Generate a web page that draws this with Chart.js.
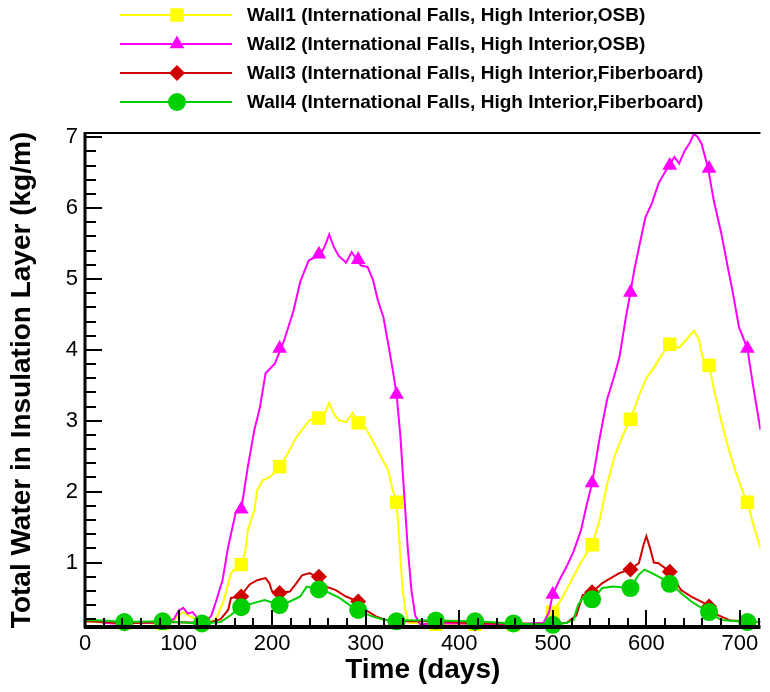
<!DOCTYPE html>
<html>
<head>
<meta charset="utf-8">
<script src="https://cdn.jsdelivr.net/npm/chart.js@4.4.1/dist/chart.umd.min.js"></script>
<style>
  html, body { margin: 0; padding: 0; background: #fff; }
  #wrap { width: 770px; height: 692px; position: relative; }
</style>
</head>
<body>
<div id="wrap"><canvas id="chart"></canvas></div>
<script>
// ==========================
// DATA
// ==========================
const xTickLabels = [0, 100, 200, 300, 400, 500, 600, 700];
const yTickLabels = [1, 2, 3, 4, 5, 6, 7];

const seriesNames = [
  "Wall1 (International Falls, High Interior,OSB)",
  "Wall2 (International Falls, High Interior,OSB)",
  "Wall3 (International Falls, High Interior,Fiberboard)",
  "Wall4 (International Falls, High Interior,Fiberboard)"
];

// Wall1 - yellow
const wall1Days = [0, 20, 42, 83, 95, 100, 105, 112, 120, 128, 140, 148, 156, 166, 171, 174, 181, 184, 190, 198, 208, 219, 224, 230, 240, 250, 256, 261, 266, 271, 279, 286, 292, 300, 311, 318, 324, 329, 333, 336, 339, 342, 346, 375, 420, 460, 490, 497, 500, 510, 520, 530, 542, 550, 558, 566, 575, 583, 592, 600, 608, 615, 625, 635, 643, 651, 656, 660, 667, 673, 680, 688, 695, 703, 708, 715, 722];
const wall1Vals = [0.18, 0.15, 0.15, 0.14, 0.18, 0.26, 0.30, 0.24, 0.20, 0.13, 0.20, 0.45, 0.85, 0.97, 1.13, 1.46, 1.74, 2.02, 2.16, 2.21, 2.35, 2.59, 2.73, 2.84, 3.01, 3.04, 3.10, 3.25, 3.10, 3.01, 2.98, 3.11, 2.97, 2.90, 2.63, 2.45, 2.30, 2.02, 1.85, 1.30, 0.70, 0.35, 0.15, 0.13, 0.13, 0.12, 0.14, 0.20, 0.30, 0.50, 0.75, 1.00, 1.25, 1.60, 2.10, 2.50, 2.80, 3.02, 3.35, 3.60, 3.75, 3.90, 4.08, 4.03, 4.15, 4.27, 4.15, 3.90, 3.78, 3.40, 3.00, 2.60, 2.30, 2.00, 1.85, 1.50, 1.20];

// Wall2 - magenta
const wall2Days = [0, 10, 20, 30, 42, 60, 83, 95, 100, 105, 110, 115, 120, 128, 135, 140, 147, 153, 161, 167, 174, 181, 187, 193, 203, 213, 223, 230, 239, 251, 256, 261, 266, 271, 279, 285, 295, 302, 308, 313, 319, 324, 329, 333, 337, 341, 345, 349, 353, 358, 375, 400, 430, 460, 490, 496, 500, 507, 515, 522, 530, 536, 542, 550, 558, 565, 571, 578, 583, 587, 593, 599, 606, 613, 624, 630, 635, 641, 646, 651, 655, 659, 666, 672, 680, 687, 692, 699, 708, 714, 722];
const wall2Vals = [0.20, 0.18, 0.15, 0.14, 0.14, 0.15, 0.15, 0.20, 0.32, 0.36, 0.28, 0.30, 0.22, 0.15, 0.25, 0.45, 0.75, 1.22, 1.70, 1.75, 2.35, 2.87, 3.19, 3.67, 3.81, 4.14, 4.56, 4.96, 5.26, 5.34, 5.45, 5.63, 5.45, 5.33, 5.23, 5.38, 5.19, 5.17, 4.98, 4.70, 4.46, 4.09, 3.71, 3.37, 2.80, 2.00, 1.20, 0.60, 0.25, 0.13, 0.14, 0.14, 0.13, 0.13, 0.15, 0.30, 0.55, 0.75, 0.95, 1.15, 1.45, 1.80, 2.12, 2.75, 3.30, 3.60, 3.88, 4.45, 4.81, 5.12, 5.50, 5.87, 6.07, 6.35, 6.60, 6.72, 6.63, 6.81, 6.91, 7.05, 7.00, 6.91, 6.56, 6.11, 5.65, 5.17, 4.84, 4.32, 4.02, 3.50, 2.87];

// Wall3 - red
const wall3Days = [0, 20, 42, 83, 125, 135, 145, 153, 156, 166, 176, 184, 193, 197, 200, 208, 219, 226, 232, 240, 250, 258, 268, 279, 292, 300, 311, 321, 340, 375, 417, 458, 500, 515, 525, 532, 542, 553, 562, 571, 582, 592, 597, 600, 604, 608, 613, 625, 637, 648, 666, 676, 690, 722];
const wall3Vals = [0.17, 0.16, 0.14, 0.16, 0.15, 0.16, 0.20, 0.33, 0.50, 0.52, 0.69, 0.75, 0.78, 0.71, 0.59, 0.57, 0.59, 0.71, 0.82, 0.85, 0.78, 0.66, 0.61, 0.52, 0.45, 0.33, 0.24, 0.19, 0.17, 0.17, 0.14, 0.14, 0.13, 0.15, 0.25, 0.54, 0.58, 0.71, 0.78, 0.85, 0.90, 0.99, 1.25, 1.37, 1.20, 1.00, 0.99, 0.87, 0.61, 0.52, 0.40, 0.26, 0.18, 0.16];

// Wall4 - green
const wall4Days = [0, 20, 42, 83, 125, 145, 156, 166, 181, 192, 208, 219, 230, 237, 250, 258, 272, 290, 307, 320, 375, 417, 458, 500, 515, 522, 527, 532, 542, 553, 564, 583, 592, 598, 606, 613, 625, 637, 648, 666, 680, 708, 722];
const wall4Vals = [0.19, 0.18, 0.16, 0.17, 0.14, 0.16, 0.26, 0.37, 0.43, 0.47, 0.40, 0.45, 0.52, 0.66, 0.62, 0.59, 0.50, 0.33, 0.24, 0.19, 0.18, 0.17, 0.14, 0.12, 0.15, 0.19, 0.40, 0.50, 0.48, 0.64, 0.66, 0.64, 0.83, 0.90, 0.85, 0.80, 0.71, 0.57, 0.45, 0.30, 0.19, 0.16, 0.16];

// symbols (every ~42 days)
const markerDays = [42, 83, 125, 167, 208, 250, 292, 333, 375, 417, 458, 500, 542, 583, 625, 667, 708];
const wall1Marks = [0.15, 0.14, 0.14, 0.97, 2.35, 3.04, 2.97, 1.85, 0.13, 0.13, 0.12, 0.30, 1.25, 3.02, 4.08, 3.78, 1.85];
const wall2Marks = [0.14, 0.15, 0.15, 1.75, 4.02, 5.35, 5.27, 3.37, 0.14, 0.14, 0.13, 0.55, 2.12, 4.81, 6.60, 6.56, 4.02];
const wall3Marks = [0.14, 0.16, 0.15, 0.52, 0.57, 0.80, 0.45, 0.17, 0.17, 0.14, 0.14, 0.13, 0.58, 0.90, 0.87, 0.38, 0.16];
const wall4Marks = [0.16, 0.17, 0.14, 0.37, 0.40, 0.62, 0.33, 0.17, 0.18, 0.17, 0.14, 0.12, 0.48, 0.64, 0.70, 0.30, 0.16];

// ==========================
// STYLE
// ==========================
const colors = ["#ffff00", "#ff00ff", "#d00000", "#00d000"];
const shapes = ["rect", "triangle", "rectRot", "circle"];
const radii = [9.5, 8.5, 8, 9];
const FONT = "'Liberation Sans', Arial, sans-serif";

const pairs = (xs, ys) => xs.map((x, i) => ({ x: x, y: ys[i] }));

const lineSets = [
  pairs(wall1Days, wall1Vals),
  pairs(wall2Days, wall2Vals),
  pairs(wall3Days, wall3Vals),
  pairs(wall4Days, wall4Vals)
];
const markSets = [wall1Marks, wall2Marks, wall3Marks, wall4Marks].map(m => pairs(markerDays, m));

const datasets = [];
for (let i = 0; i < 4; i++) {
  datasets.push({
    label: seriesNames[i],
    data: lineSets[i],
    borderColor: colors[i],
    borderWidth: 2,
    pointRadius: 0,
    fill: false,
    tension: 0,
    order: 8 - i * 2
  });
  datasets.push({
    label: seriesNames[i] + " symbols",
    data: markSets[i],
    showLine: false,
    pointStyle: shapes[i],
    pointRadius: radii[i],
    pointBackgroundColor: colors[i],
    pointBorderWidth: 0,
    clip: 12,
    order: 7 - i * 2
  });
}

// ==========================
// PLUGINS
// ==========================
const frameAndTicks = {
  id: "frameAndTicks",
  afterDatasetsDraw(chart) {
    const { ctx, chartArea: a, scales } = chart;
    const xs = scales.x, ys = scales.y;
    ctx.save();
    ctx.strokeStyle = "#000";
    ctx.lineCap = "butt";

    // minor + major ticks pointing inside
    ctx.lineWidth = 2;
    for (let d = 20; d <= 720; d += 20) {
      const px = Math.round(xs.getPixelForValue(d));
      const len = d % 100 === 0 ? 17 : 9;
      ctx.beginPath();
      ctx.moveTo(px, a.bottom);
      ctx.lineTo(px, a.bottom - len);
      ctx.stroke();
    }
    for (let k = 1; k <= 35; k++) {
      const v = k / 5;
      const py = Math.round(ys.getPixelForValue(v));
      const len = k % 5 === 0 ? 17 : 11;
      ctx.beginPath();
      ctx.moveTo(a.left, py);
      ctx.lineTo(a.left + len, py);
      ctx.stroke();
    }

    // frame
    ctx.lineWidth = 2;
    ctx.beginPath();
    ctx.moveTo(a.left, a.top);
    ctx.lineTo(a.right, a.top);
    ctx.stroke();
    ctx.lineWidth = 3;
    ctx.beginPath();
    ctx.moveTo(a.left, a.top - 1);
    ctx.lineTo(a.left, a.bottom + 1);
    ctx.stroke();
    ctx.lineWidth = 4;
    ctx.beginPath();
    ctx.moveTo(a.left - 1, a.bottom);
    ctx.lineTo(a.right, a.bottom);
    ctx.stroke();
    ctx.restore();
  }
};

const topLegend = {
  id: "topLegend",
  afterDraw(chart) {
    const ctx = chart.ctx;
    const rows = [15, 44, 73, 102];
    ctx.save();
    for (let i = 0; i < 4; i++) {
      const y = rows[i];
      ctx.strokeStyle = colors[i];
      ctx.lineWidth = 2;
      ctx.beginPath();
      ctx.moveTo(120, y);
      ctx.lineTo(232, y);
      ctx.stroke();
      ctx.fillStyle = colors[i];
      Chart.helpers.drawPoint(ctx, { pointStyle: shapes[i], radius: radii[i], rotation: 0, borderWidth: 0 }, 177, y);
      ctx.fillStyle = "#000";
      ctx.font = "bold 19px " + FONT;
      ctx.textBaseline = "middle";
      ctx.textAlign = "left";
      ctx.fillText(seriesNames[i], 247, y + 1);
    }
    ctx.restore();
  }
};

// ==========================
// CHART
// ==========================
new Chart(document.getElementById("chart"), {
  type: "line",
  data: { datasets: datasets },
  options: {
    responsive: true,
    maintainAspectRatio: false,
    animation: false,
    layout: { padding: { top: 133, left: 0, right: 0, bottom: 0 } },
    plugins: {
      legend: { display: false },
      tooltip: { enabled: false }
    },
    scales: {
      x: {
        type: "linear",
        min: 0,
        max: 722,
        afterBuildTicks: (s) => { s.ticks = xTickLabels.map(v => ({ value: v })); },
        afterFit: (s) => { s.height = 65; },
        grid: { display: false, drawTicks: false },
        border: { display: false },
        ticks: {
          color: "#000",
          padding: 4,
          maxRotation: 0,
          font: { family: FONT, size: 22 }
        },
        title: {
          display: true,
          text: "Time (days)",
          color: "#000",
          padding: { top: 0, bottom: 5 },
          font: { family: FONT, size: 28, weight: "bold" }
        }
      },
      y: {
        min: 0.09,
        max: 7.06,
        afterBuildTicks: (s) => { s.ticks = yTickLabels.map(v => ({ value: v })); },
        afterFit: (s) => { s.width = 85; },
        grid: { display: false, drawTicks: false },
        border: { display: false },
        ticks: {
          color: "#000",
          padding: 7,
          font: { family: FONT, size: 22 }
        },
        title: {
          display: true,
          text: "Total Water in Insulation Layer (kg/m)",
          color: "#000",
          padding: { top: 5, bottom: 0 },
          font: { family: FONT, size: 28, weight: "bold" }
        }
      }
    }
  },
  plugins: [frameAndTicks, topLegend]
});
</script>
</body>
</html>
